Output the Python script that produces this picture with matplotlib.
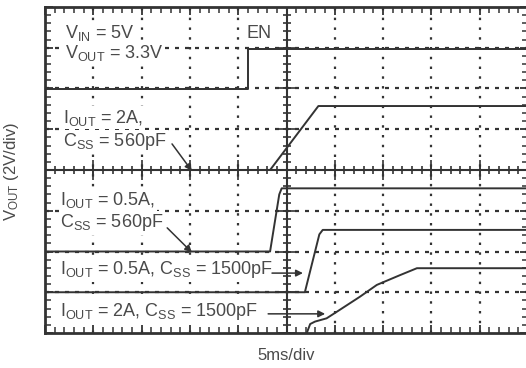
import numpy as np
import matplotlib
matplotlib.use("Agg")
import matplotlib.pyplot as plt

plt.rcParams['font.family'] = ['Liberation Sans', 'DejaVu Sans']
plt.rcParams['mathtext.default'] = 'regular'

# ---- data (time in divisions of 5ms, voltage in divisions of 2V) ----
en_t = [0.0, 4.21, 4.21, 10.2]
en_v = [5.98, 5.98, 6.96, 6.96]

a2_560_t = [0.0, 4.66, 5.66, 10.2]
a2_560_v = [4.0, 4.0, 5.57, 5.57]

a05_560_t = [0.0, 4.66, 4.85, 4.90, 10.2]
a05_560_v = [2.0, 2.0, 3.40, 3.55, 3.55]

a05_1500_t = [0.0, 5.38, 5.68, 5.75, 10.2]
a05_1500_v = [1.0, 1.0, 2.42, 2.53, 2.53]

a2_1500_t = [5.42, 5.49, 5.59, 5.83, 6.04, 6.52, 6.87, 7.35, 7.70, 10.2]
a2_1500_v = [0.0, 0.22, 0.28, 0.36, 0.52, 0.89, 1.18, 1.42, 1.59, 1.59]

labels = [
    (r'$V_{IN}$ = 5V', 0.41, 7.36),
    (r'$V_{OUT}$ = 3.3V', 0.41, 6.87),
    ('EN', 4.18, 7.36),
    (r'$I_{OUT}$ = 2A,', 0.37, 5.28),
    (r'$C_{SS}$ = 560pF', 0.37, 4.69),
    (r'$I_{OUT}$ = 0.5A,', 0.31, 3.26),
    (r'$C_{SS}$ = 560pF', 0.31, 2.70),
    (r'$I_{OUT}$ = 0.5A, $C_{SS}$ = 1500pF', 0.31, 1.55),
    (r'$I_{OUT}$ = 2A, $C_{SS}$ = 1500pF', 0.31, 0.52),
]

arrows = [  # (x_from, y_from, x_to, y_to)
    (2.63, 4.64, 3.04, 3.98),
    (2.53, 2.58, 3.04, 1.98),
    (4.70, 1.47, 5.34, 1.47),
    (4.62, 0.47, 5.80, 0.47),
]

INK = '#333333'
TXT = '#4a4a4a'

fig = plt.figure(figsize=(5.26, 3.68), dpi=100)
ax = fig.add_axes([45/526, 35/368, 483/526, 326/368])
ax.set_xlim(0, 10)
ax.set_ylim(0, 8)

# grid (dotted)
gxs = [g for g in range(1, 10) if g != 5]
gys = [g for g in range(1, 8) if g != 4]
ax.vlines(gxs, 0, 8, colors=INK, linewidths=1.6, linestyles=[(0, (1.1, 3.3))], zorder=1.5)
ax.hlines(gys, 0, 10, colors=INK, linewidths=1.6, linestyles=[(0, (1.8, 2.7))], zorder=1.5)

# center cross with ticks
ax.axvline(5, color=INK, lw=1.5, zorder=2)
ax.axhline(4, color=INK, lw=1.5, zorder=2)
mx = np.arange(0, 10.01, 0.2)
my = np.arange(0, 8.01, 0.2)
ax.plot(mx, np.full_like(mx, 4), ls='none', marker='|', ms=6, mew=1.2, color=INK, zorder=2)
ax.plot(np.arange(0, 11), np.full(11, 4), ls='none', marker='|', ms=14, mew=1.2, color=INK, zorder=2)
ax.plot(np.full_like(my, 5), my, ls='none', marker='_', ms=6, mew=1.2, color=INK, zorder=2)
ax.plot(np.full(9, 5), np.arange(0, 9), ls='none', marker='_', ms=14, mew=1.2, color=INK, zorder=2)

# border ticks
ax.set_xticks(np.arange(0, 11))
ax.set_yticks(np.arange(0, 9))
ax.set_xticks(mx, minor=True)
ax.set_yticks(my, minor=True)
ax.tick_params(which='both', direction='in', top=True, right=True, bottom=True, left=True,
               labelbottom=False, labelleft=False, color=INK)
ax.tick_params(which='major', length=6, width=1.3)
ax.tick_params(which='minor', length=4.5, width=1.1)
for s in ax.spines.values():
    s.set_color(INK)
    s.set_linewidth(2.0)
    s.set_zorder(5)

# traces
for t, v in [(en_t, en_v), (a2_560_t, a2_560_v), (a05_560_t, a05_560_v),
             (a05_1500_t, a05_1500_v), (a2_1500_t, a2_1500_v)]:
    ax.plot(t, v, color=INK, lw=1.4, zorder=4)

# labels
for s, x, y in labels:
    ax.text(x, y, s, fontsize=13, color=TXT, va='center', ha='left', zorder=3,
            bbox=dict(facecolor='white', edgecolor='none', pad=1.0))

for x0, y0, x1, y1 in arrows:
    ax.annotate('', xy=(x1, y1), xytext=(x0, y0), zorder=4,
                arrowprops=dict(arrowstyle='-|>', color=INK, lw=1.1,
                                mutation_scale=10, shrinkA=0, shrinkB=0))

fig.text(12/526, 1 - 171/368, r'$V_{OUT}$ (2V/div)', rotation=90, fontsize=12,
         color=TXT, ha='center', va='center')
fig.text(286/526, 1 - 355/368, '5ms/div', fontsize=12, color=TXT, ha='center', va='center')

fig.savefig('out.png', dpi=100)
